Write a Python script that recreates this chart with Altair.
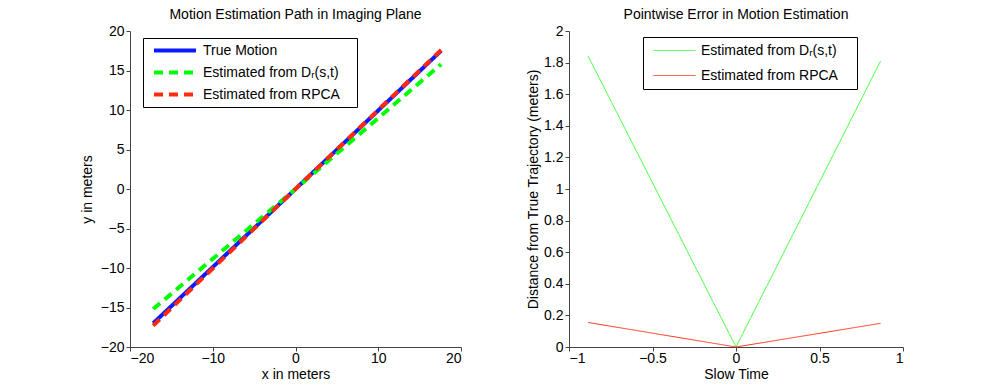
import altair as alt
import pandas as pd

# ---- data ----
S_TRUE = "True Motion"
S_DR = "Estimated from Dᵣ(s,t)"
S_RPCA = "Estimated from RPCA"

path_x = [-17.2, 0.0, 17.6]
true_y = [-17.0, 0.0, 17.5]
dr_y = [-15.2, 0.0, 15.8]
rpca_y = [-17.3, 0.0, 17.6]

slow_t = [-0.885, 0.0, 0.866]
dr_err = [1.84, 0.0, 1.81]
rpca_err = [0.155, 0.0, 0.15]

left_ticks_x = [-20, -10, 0, 10, 20]
left_ticks_y = [-20, -15, -10, -5, 0, 5, 10, 15, 20]
right_ticks_x = [-1, -0.5, 0, 0.5, 1]
right_ticks_y = [0, 0.2, 0.4, 0.6, 0.8, 1, 1.2, 1.4, 1.6, 1.8, 2]

FONT = "Liberation Sans"
FS = 14

rows = []
for name, ys in [(S_TRUE, true_y), (S_DR, dr_y), (S_RPCA, rpca_y)]:
    for i, (x, y) in enumerate(zip(path_x, ys)):
        rows.append({"series": name, "x": x, "y": y, "i": i})
df_left = pd.DataFrame(rows)

rows = []
for name, ys in [(S_DR, dr_err), (S_RPCA, rpca_err)]:
    for i, (x, y) in enumerate(zip(slow_t, ys)):
        rows.append({"series": name, "t": x, "d": y, "i": i})
df_right = pd.DataFrame(rows)


def legend(x, y, sw, row_pad, pad, extra):
    # an invisible right-side title widens the box to the reference's width
    return alt.Legend(
        title="i", titleOrient="right", titleOpacity=0, titlePadding=extra,
        titleFont=FONT, titleFontSize=FS,
        orient="none", legendX=x, legendY=y, direction="vertical",
        strokeColor="black", fillColor="white", padding=pad,
        symbolType="stroke", symbolSize=42 * 42, symbolStrokeWidth=sw,
        clipHeight=15, symbolOffset=4,
        labelFont=FONT, labelFontSize=FS, labelColor="black", labelOffset=5,
        rowPadding=row_pad, labelLimit=400,
    )


left_dom = [S_TRUE, S_DR, S_RPCA]
left_col = ["#0a1cff", "#00ff00", "#ff2a10"]
left_dash = [[1, 0], [9, 6], [9, 6]]

left_leg = legend(13, 7, 4, 7, 5, 8)
base_l = alt.Chart(df_left).mark_line(strokeWidth=4, strokeCap="butt").encode(
    x=alt.X("x:Q", scale=alt.Scale(domain=[-20, 20], nice=False),
            axis=alt.Axis(values=left_ticks_x, title="x in meters", titlePadding=2,
                          labelPadding=0)),
    y=alt.Y("y:Q", scale=alt.Scale(domain=[-20, 20], nice=False),
            axis=alt.Axis(values=left_ticks_y, title="y in meters", titlePadding=6)),
    color=alt.Color("series:N", scale=alt.Scale(domain=left_dom, range=left_col),
                    legend=left_leg),
    strokeDash=alt.StrokeDash("series:N", scale=alt.Scale(domain=left_dom, range=left_dash),
                              legend=left_leg),
    order="i:Q",
)
left = alt.layer(
    *[base_l.transform_filter(alt.datum.series == s) for s in left_dom]
).properties(width=331, height=316,
             title=alt.Title("Motion Estimation Path in Imaging Plane"))

right_dom = [S_DR, S_RPCA]
right_col = ["#33ff33", "#ff3318"]
right_dash = [[1, 0], [1, 0]]

right_leg = legend(74, 6, 1, 10, 6, 9)
base_r = alt.Chart(df_right).mark_line(strokeWidth=1).encode(
    x=alt.X("t:Q", scale=alt.Scale(domain=[-1, 1], nice=False),
            axis=alt.Axis(values=right_ticks_x, title="Slow Time", format="~g",
                          titlePadding=2, labelPadding=0)),
    y=alt.Y("d:Q", scale=alt.Scale(domain=[0, 2], nice=False),
            axis=alt.Axis(values=right_ticks_y, title="Distance from True Trajectory (meters)",
                          format="~g", titlePadding=3)),
    color=alt.Color("series:N", scale=alt.Scale(domain=right_dom, range=right_col),
                    legend=right_leg),
    strokeDash=alt.StrokeDash("series:N", scale=alt.Scale(domain=right_dom, range=right_dash),
                              legend=right_leg),
    order="i:Q",
)
right = alt.layer(
    *[base_r.transform_filter(alt.datum.series == s) for s in right_dom]
).properties(width=334, height=316,
             title=alt.Title("Pointwise Error in Motion Estimation"))

chart = alt.hconcat(left, right, spacing=64).resolve_scale(
    color="independent", strokeDash="independent"
).properties(
    padding={"left": 72, "top": 0, "right": 5, "bottom": 5}
).configure_view(stroke=None).configure_axis(
    labelFont=FONT, titleFont=FONT, labelFontSize=FS, titleFontSize=FS,
    titleFontWeight="normal", labelColor="black", titleColor="black",
    domainColor="#444", tickColor="#444", grid=False, tickSize=4,
    labelPadding=2,
).configure_title(
    font=FONT, fontSize=FS, fontWeight="normal", color="black", offset=2
)

chart.save("out.html", embed_options={"renderer": "svg", "actions": False})
